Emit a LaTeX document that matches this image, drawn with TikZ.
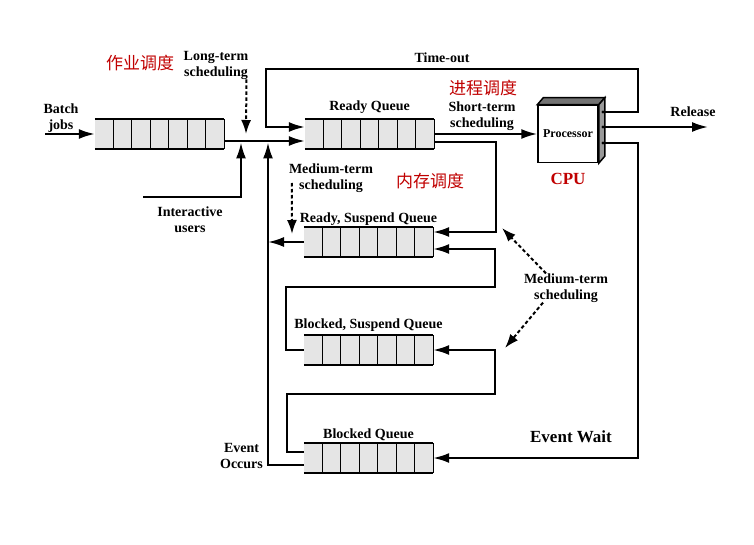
\documentclass[tikz,border=0pt]{standalone}
\usepackage{fontspec}
\setmainfont{Liberation Serif}
\newfontfamily\cjk{Noto Sans CJK SC}
\usepackage{tikz}
\usetikzlibrary{positioning,calc,arrows.meta}
\definecolor{labred}{RGB}{192,0,0}

\begin{document}
\begin{tikzpicture}[x=1pt,y=-1pt]
      \tikzstyle{queue}=[rectangle, minimum width=129pt, minimum height=29pt, inner sep=0pt, fill=black!10]
      \tikzstyle{proc}=[rectangle, minimum width=60pt, minimum height=57pt, line width=1.5pt, draw=black, fill=white, inner sep=0pt, font=\fontsize{12}{14}\selectfont\bfseries]
      \tikzstyle{lbl}=[align=center, inner sep=0pt, font=\fontsize{14}{16}\selectfont\bfseries]
      \tikzstyle{big}=[inner sep=0pt, text=labred, font=\fontsize{17}{19}\selectfont\bfseries]
      \tikzstyle{zh}=[inner sep=0pt, text=labred, font=\fontsize{17}{19}\selectfont\cjk]
      \tikzstyle{connect}=[-{Latex[length=16pt,width=10pt]}, line width=2pt]
      \tikzstyle{dotconnect}=[-{Latex[length=14pt,width=10pt]}, line width=2pt, dash pattern=on 3.5pt off 2.5pt]

      \useasboundingbox (0,0) rectangle (754,545);

      \node[queue] (batch) at (159.5,134) {};
      \node[queue] (ready) at (369.5,134) {};
      \node[queue] (rsusp) at (368.5,242) {};
      \node[queue] (bsusp) at (368.5,350) {};
      \node[queue] (blocked) at (368.5,458) {};

      \foreach \q in {batch,ready,rsusp,bsusp,blocked} {
        \foreach \i in {1,...,6}
          \draw[line width=0.8pt] ($(\q.north west)!\i/7!(\q.north east)$) -- ($(\q.south west)!\i/7!(\q.south east)$);
        \draw[line width=1.3pt] (\q.north east) -- (\q.south east);
        \draw[line width=2pt] (\q.north west) -- (\q.north east) (\q.south west) -- (\q.south east);
      }

      \node[lbl] (readyt) [above=5.5pt of ready] {Ready Queue};
      \node[lbl] (rsuspt) [above=1.5pt of rsusp] {Ready, Suspend Queue};
      \node[lbl] (bsuspt) [above=4pt of bsusp] {Blocked, Suspend Queue};
      \node[lbl] (blockedt) [above=2.5pt of blocked] {Blocked Queue};

      \node[proc] (cpu) at (568,134) {Processor};
      \filldraw[fill=black!55, line width=1.5pt] (cpu.north west) -- ++(6pt,7pt) -- ([shift={(6pt,7pt)}]cpu.north east) -- (cpu.north east) -- cycle;
      \filldraw[fill=black!40, line width=1.5pt] (cpu.north east) -- ++(6pt,7pt) -- ([shift={(6pt,7pt)}]cpu.south east) -- (cpu.south east) -- cycle;
      \node[big] (cpul) [below=10pt of cpu] {CPU};

      \coordinate (out1) at (603,112);
      \coordinate (out2) at (603,127);
      \coordinate (out3) at (603,143);
      \foreach \o in {out1,out2,out3}
        \fill (\o) circle (1.6pt);

      \node[lbl] (batchl) at (61,118) {Batch\\jobs};
      \node[lbl] (ltsl) at (216,65) {Long-term\\scheduling};
      \node[lbl] (iul) at (190,220) {Interactive\\users};
      \node[lbl, anchor=base] (tol) at (442,63) {Time-out};
      \node[lbl] (stsl) at (482,116) {Short-term\\scheduling};
      \node[lbl] (mtl) at (331,178) {Medium-term\\scheduling};
      \node[lbl] (mtr) at (566,288) {Medium-term\\scheduling};
      \node[lbl, anchor=base] (rell) at (693,117) {Release};
      \node[lbl] (eol) at (241.5,456) {Event\\Occurs};
      \node[big, text=black, anchor=base] (ewl) at (571,442) {Event Wait};

      \node[zh] (zh1) at (140,63.5) {作业调度};
      \node[zh] (zh2) at (483,88) {进程调度};
      \node[zh] (zh3) at (430,181) {内存调度};

      \coordinate (bj) at (45,134);
      \coordinate (iu) at (143,197);
      \coordinate (iutop) at (241,142.5);
      \coordinate (eotop) at (268,142.5);
      \coordinate (rel) at (708,127);
      \coordinate (lt) at (246,134);
      \coordinate (mt) at (292,234);
      \coordinate (ms1) at (502,228);
      \coordinate (ms2) at (505,348);

      \draw[connect] (bj) -- (batch.west);
      \draw[connect] ([yshift=-7pt]batch.east) -- ([yshift=-7pt]ready.west);
      \draw[connect] (iu) -| (iutop);
      \draw[connect] (ready.east) -- (cpu.west);
      \draw[connect] (out1) -| (638,69) -| (266,127) -- ([yshift=7pt]ready.west);
      \draw[connect] (out2) -- (rel);
      \draw[connect] (out3) -| (638,458) -- (blocked.east);
      \draw[connect] ([yshift=-8pt]ready.east) -| (496,232) -- ([yshift=10pt]rsusp.east);
      \draw[connect] (rsusp.west) -- (rsusp.west -| eotop);
      \draw[connect] (bsusp.west) -- ++(-18,0) |- (495,287) |- ([yshift=-7pt]rsusp.east);
      \draw[connect] ([yshift=6pt]blocked.west) -- ++(-17,0) |- (495,394) |- (bsusp.east);
      \draw[connect] ([yshift=-7pt]blocked.west) -| (eotop);

      \draw[dotconnect] ([xshift=-2pt]ltsl.south east) -- (lt);
      \draw[dotconnect] ([xshift=3pt,yshift=-5pt]mtl.west) -- (mt);
      \draw[dotconnect] ([xshift=-20pt]mtr.north) -- (ms1);
      \draw[dotconnect] ([xshift=-23pt]mtr.south) -- (ms2);
\end{tikzpicture}
\end{document}
